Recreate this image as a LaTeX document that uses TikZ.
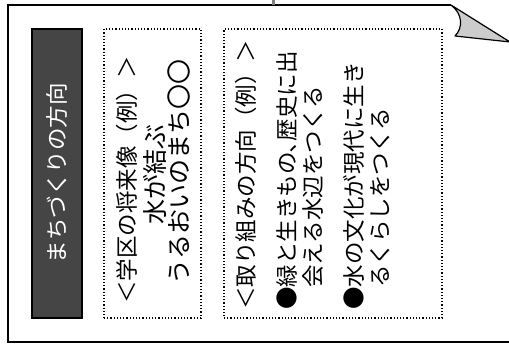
\documentclass[tikz,border=0pt]{standalone}
\usepackage{fontspec}
\newfontfamily\jfont{Noto Sans CJK JP}
\begin{document}
\begin{tikzpicture}[x=1pt, y=1pt,
    dotbox/.style={draw, dotted, line width=1.2pt, minimum height=289pt, inner sep=0pt},
    vline/.style={rotate=90, inner sep=0pt, font=\jfont\fontsize{22.5}{27}\selectfont},
    bigline/.style={vline, font=\jfont\fontsize{25}{30}\selectfont}]
    \useasboundingbox (0,0) rectangle (509,344);

    \coordinate (feed) at (273,344);
    \coordinate (topedge) at (273,339);
    \draw[line width=2pt] (451,339) -- (8,339) -- (8,2) -- (512,2);
    \draw[gray, line width=3pt] (feed) -- (topedge);
    \draw[line width=1.2pt, fill=gray!40, line join=round] (451,339) -- (510,302) -- (455,308)
        .. controls (463,316) and (463,330) .. (451,339);

    \node[draw, line width=1.5pt, fill=black!73, text=white, rotate=90, minimum width=289pt,
        minimum height=50pt, inner sep=0pt, font=\jfont\fontsize{22.5}{27}\selectfont] (title) at (57,170.5) {まちづくりの方向};

    \node[dotbox, minimum width=97pt] (vision) at (152.5,170.5) {};
    \node[vline] (vision1) at (127,164) {＜学区の将来像（例）＞};
    \node[bigline] (vision2) at (155,169) {水が結ぶ};
    \node[bigline] (vision3) at (179,172) {うるおいのまち〇〇};

    \node[dotbox, minimum width=218pt] (approach) at (333,170.5) {};
    \node[vline] (approach1) at (246,169) {＜取り組みの方向（例）＞};
    \node[vline, anchor=west] (approach2) at (287,34) {●緑と生きもの､歴史に出};
    \node[vline, anchor=west] (approach3) at (313,56) {会える水辺をつくる};
    \node[vline, anchor=west] (approach4) at (354,34) {●水の文化が現代に生き};
    \node[vline, anchor=west] (approach5) at (380,56) {るくらしをつくる};
\end{tikzpicture}
\end{document}
